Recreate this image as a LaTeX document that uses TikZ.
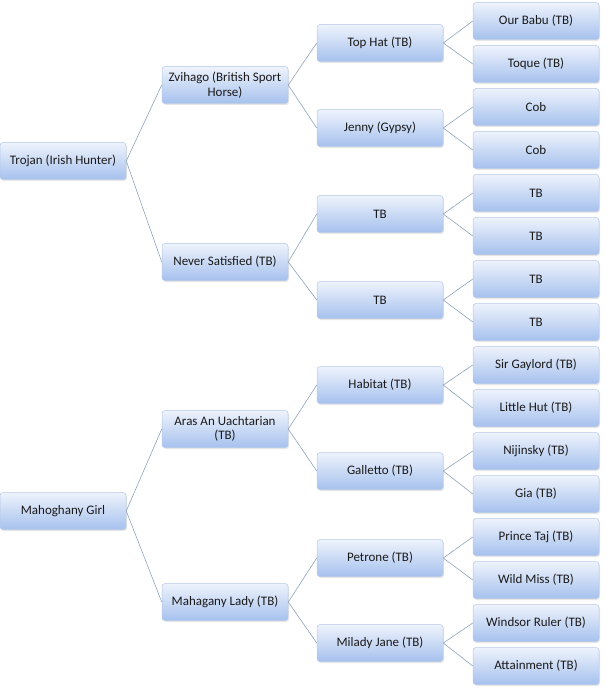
\documentclass[tikz,border=0pt]{standalone}
\usepackage{fontspec}
\setmainfont{Carlito}
\usetikzlibrary{shadows}

\definecolor{boxtop}{HTML}{EEF3FC}
\definecolor{boxbottom}{HTML}{A6C1EE}
\definecolor{boxline}{HTML}{B4C8E6}
\definecolor{linkline}{HTML}{8FA3BE}
\definecolor{boxtext}{HTML}{1A1A1A}

\tikzset{
	horse/.style={rounded corners=3pt, draw=boxline, line width=0.5pt,
		top color=boxtop, bottom color=boxbottom,
		minimum width=126pt, minimum height=37pt, inner sep=2pt,
		align=center, text=boxtext, font=\fontsize{13pt}{14.5pt}\selectfont,
		drop shadow={opacity=0.2, shadow xshift=1pt, shadow yshift=-1.5pt}},
	link/.style={draw=linkline, line width=0.6pt}
}

\begin{document}
\begin{tikzpicture}[x=1pt, y=-1pt]
	\useasboundingbox (0,0) rectangle (606,692);
	
	% Primera columna
	\node[horse] (trojan) at (63,161) {Trojan (Irish Hunter)};
	\node[horse] (mahoghany) at (63,511) {Mahoghany Girl};
	
	% Segunda columna
	\node[horse] (zvihago) at (225,85) {Zvihago (British Sport\\Horse)};
	\node[horse] (never) at (225,262) {Never Satisfied (TB)};
	\node[horse] (aras) at (225,429) {Aras An Uachtarian\\(TB)};
	\node[horse] (lady) at (225,602) {Mahagany Lady (TB)};
	
	% Tercera columna
	\node[horse] (tophat) at (380,43) {Top Hat (TB)};
	\node[horse] (jenny) at (380,128) {Jenny (Gypsy)};
	\node[horse] (tba) at (380,214) {TB};
	\node[horse] (tbb) at (380,300) {TB};
	\node[horse] (habitat) at (380,385) {Habitat (TB)};
	\node[horse] (galletto) at (380,471) {Galletto (TB)};
	\node[horse] (petrone) at (380,558) {Petrone (TB)};
	\node[horse] (milady) at (380,643) {Milady Jane (TB)};
	
	% Cuarta columna
	\node[horse] (babu) at (536,21) {Our Babu (TB)};
	\node[horse] (toque) at (536,64) {Toque (TB)};
	\node[horse] (coba) at (536,107) {Cob};
	\node[horse] (cobb) at (536,150) {Cob};
	\node[horse] (tbc) at (536,193) {TB};
	\node[horse] (tbd) at (536,236) {TB};
	\node[horse] (tbe) at (536,279) {TB};
	\node[horse] (tbf) at (536,322) {TB};
	\node[horse] (gaylord) at (536,365) {Sir Gaylord (TB)};
	\node[horse] (hut) at (536,408) {Little Hut (TB)};
	\node[horse] (nijinsky) at (536,451) {Nijinsky (TB)};
	\node[horse] (gia) at (536,494) {Gia (TB)};
	\node[horse] (taj) at (536,537) {Prince Taj (TB)};
	\node[horse] (miss) at (536,580) {Wild Miss (TB)};
	\node[horse] (windsor) at (536,623) {Windsor Ruler (TB)};
	\node[horse] (attainment) at (536,666) {Attainment (TB)};
	
	% Lineas entre padres e hijos
	\foreach \a/\b in {trojan/zvihago, trojan/never, mahoghany/aras, mahoghany/lady,
		zvihago/tophat, zvihago/jenny, never/tba, never/tbb,
		aras/habitat, aras/galletto, lady/petrone, lady/milady,
		tophat/babu, tophat/toque, jenny/coba, jenny/cobb,
		tba/tbc, tba/tbd, tbb/tbe, tbb/tbf,
		habitat/gaylord, habitat/hut, galletto/nijinsky, galletto/gia,
		petrone/taj, petrone/miss, milady/windsor, milady/attainment}
		\draw[link] (\a.east) -- (\b.west);
	
\end{tikzpicture}
\end{document}
